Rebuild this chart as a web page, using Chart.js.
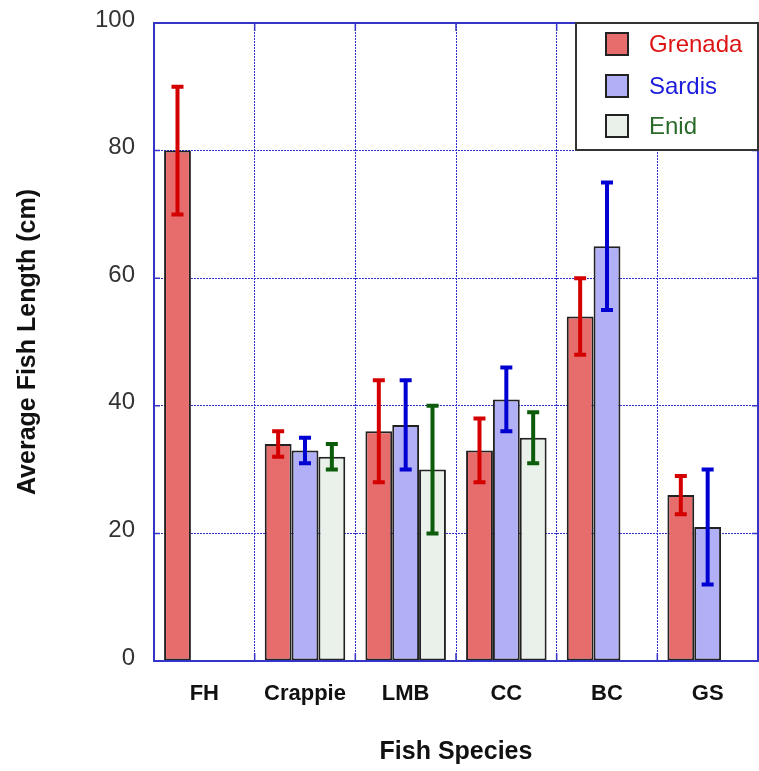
<!DOCTYPE html>
<html>
<head>
<meta charset="utf-8">
<script src="https://cdn.jsdelivr.net/npm/chart.js@4.4.0/dist/chart.umd.min.js"></script>
<style>
  html, body { margin: 0; padding: 0; background: #fff; }
  #wrap { width: 759px; height: 771px; }
</style>
</head>
<body>
<div id="wrap"><canvas id="c" width="759" height="771"></canvas></div>
<script>
// Average fish length by species and lake, with error bars (± values)
const species = ['FH', 'Crappie', 'LMB', 'CC', 'BC', 'GS'];
const grenada    = [80, 34, 36, 33, 54, 26];
const grenadaErr = [10, 2, 8, 5, 6, 3];
const sardis     = [null, 33, 37, 41, 65, 21];
const sardisErr  = [null, 2, 7, 5, 10, 9];
const enid       = [null, 32, 30, 35, null, null];
const enidErr    = [null, 2, 10, 4, null, null];
const yTicks = [0, 20, 40, 60, 80, 100];

const FONT = '"Liberation Sans", Arial, Helvetica, sans-serif';
const AXIS_BLUE = '#3434c8';
const GRID_BLUE = '#3030c8';

const datasets = [
  { label: 'Grenada', data: grenada, errors: grenadaErr,
    backgroundColor: '#e76d6d', errColor: '#d40000', textColor: '#dd1414' },
  { label: 'Sardis', data: sardis, errors: sardisErr,
    backgroundColor: '#b1aff5', errColor: '#0000d2', textColor: '#1c1cdc' },
  { label: 'Enid', data: enid, errors: enidErr,
    backgroundColor: '#eaf1ea', errColor: '#0c5c0c', textColor: '#2a6a2a' }
].map(d => Object.assign(d, { borderColor: '#222', borderWidth: 2, borderSkipped: false }));

// Vertical error bars with caps, positioned through the value scale
const errorBars = {
  id: 'errorBars',
  afterDatasetsDraw(chart) {
    const { ctx, scales: { y } } = chart;
    chart.data.datasets.forEach((ds, i) => {
      const meta = chart.getDatasetMeta(i);
      meta.data.forEach((bar, j) => {
        const v = ds.data[j], e = ds.errors[j];
        if (v == null || e == null) return;
        const top = y.getPixelForValue(v + e);
        const bot = y.getPixelForValue(v - e);
        const x = bar.x;
        ctx.save();
        ctx.strokeStyle = ds.errColor;
        ctx.lineWidth = 4;
        ctx.lineCap = 'butt';
        ctx.beginPath();
        ctx.moveTo(x, top); ctx.lineTo(x, bot);
        ctx.moveTo(x - 6, top); ctx.lineTo(x + 6, top);
        ctx.moveTo(x - 6, bot); ctx.lineTo(x + 6, bot);
        ctx.stroke();
        ctx.restore();
      });
    });
  }
};

// Plot frame, inward tick marks and the boxed legend
const frameAndLegend = {
  id: 'frameAndLegend',
  afterDraw(chart) {
    const { ctx, chartArea: a, scales: { x, y } } = chart;
    ctx.save();
    ctx.strokeStyle = AXIS_BLUE;
    ctx.lineWidth = 2;
    ctx.strokeRect(a.left, a.top, a.right - a.left, a.bottom - a.top);
    ctx.lineWidth = 1.5;
    ctx.beginPath();
    yTicks.forEach(t => {
      const py = y.getPixelForValue(t);
      ctx.moveTo(a.left, py); ctx.lineTo(a.left + 6, py);
      ctx.moveTo(a.right, py); ctx.lineTo(a.right - 6, py);
    });
    for (let i = 1; i < species.length; i++) {
      const px = (x.getPixelForValue(i - 1) + x.getPixelForValue(i)) / 2;
      ctx.moveTo(px, a.top); ctx.lineTo(px, a.top + 8);
      ctx.moveTo(px, a.bottom); ctx.lineTo(px, a.bottom - 8);
    }
    ctx.stroke();

    // legend box
    const w = 182, h = 127;
    const bx = a.right - w, by = a.top;
    ctx.fillStyle = '#fff';
    ctx.fillRect(bx, by, w, h);
    ctx.strokeStyle = '#333';
    ctx.lineWidth = 2;
    ctx.strokeRect(bx, by, w, h);
    const rows = [21, 63, 103];
    chart.data.datasets.forEach((ds, i) => {
      const cy = by + rows[i];
      ctx.fillStyle = ds.backgroundColor;
      ctx.fillRect(bx + 30, cy - 11, 22, 22);
      ctx.strokeStyle = '#222';
      ctx.lineWidth = 2;
      ctx.strokeRect(bx + 30, cy - 11, 22, 22);
      ctx.fillStyle = ds.textColor;
      ctx.font = '24px ' + FONT;
      ctx.textAlign = 'left';
      ctx.textBaseline = 'middle';
      ctx.fillText(ds.label, bx + 73, cy + 1);
    });
    ctx.restore();
  }
};

new Chart(document.getElementById('c'), {
  type: 'bar',
  data: { labels: species, datasets },
  options: {
    responsive: false,
    devicePixelRatio: 1,
    animation: false,
    layout: { padding: { top: 23, right: 1, left: 0, bottom: 0 } },
    plugins: { legend: { display: false }, tooltip: { enabled: false } },
    datasets: { bar: { categoryPercentage: 0.8, barPercentage: 1.0 } },
    scales: {
      x: {
        offset: true,
        grid: { offset: true, color: GRID_BLUE, lineWidth: 1, drawTicks: false },
        border: { display: true, color: AXIS_BLUE, width: 2, dash: [2, 1] },
        ticks: { color: '#111', padding: 20, font: { family: FONT, size: 22, weight: 'bold' } },
        title: { display: true, text: 'Fish Species', color: '#111',
                 font: { family: FONT, size: 25, weight: 'bold' }, padding: { top: 0, bottom: 4 } },
        afterFit(s) { s.height = 110; s.paddingLeft = 0; s.paddingRight = 0; }
      },
      y: {
        min: 0, max: 100,
        afterBuildTicks(s) { s.ticks = yTicks.map(v => ({ value: v })); },
        grid: { color: GRID_BLUE, lineWidth: 1, drawTicks: false },
        border: { display: true, color: AXIS_BLUE, width: 2, dash: [2, 1] },
        ticks: { color: '#333', padding: 19, labelOffset: -3, font: { family: FONT, size: 24 } },
        title: { display: true, text: 'Average Fish Length (cm)', color: '#111',
                 font: { family: FONT, size: 25, weight: 'bold' }, padding: { top: 13, bottom: 0 } },
        afterFit(s) { s.width = 154; s.paddingTop = 0; s.paddingBottom = 0; }
      }
    }
  },
  plugins: [errorBars, frameAndLegend]
});
</script>
</body>
</html>
